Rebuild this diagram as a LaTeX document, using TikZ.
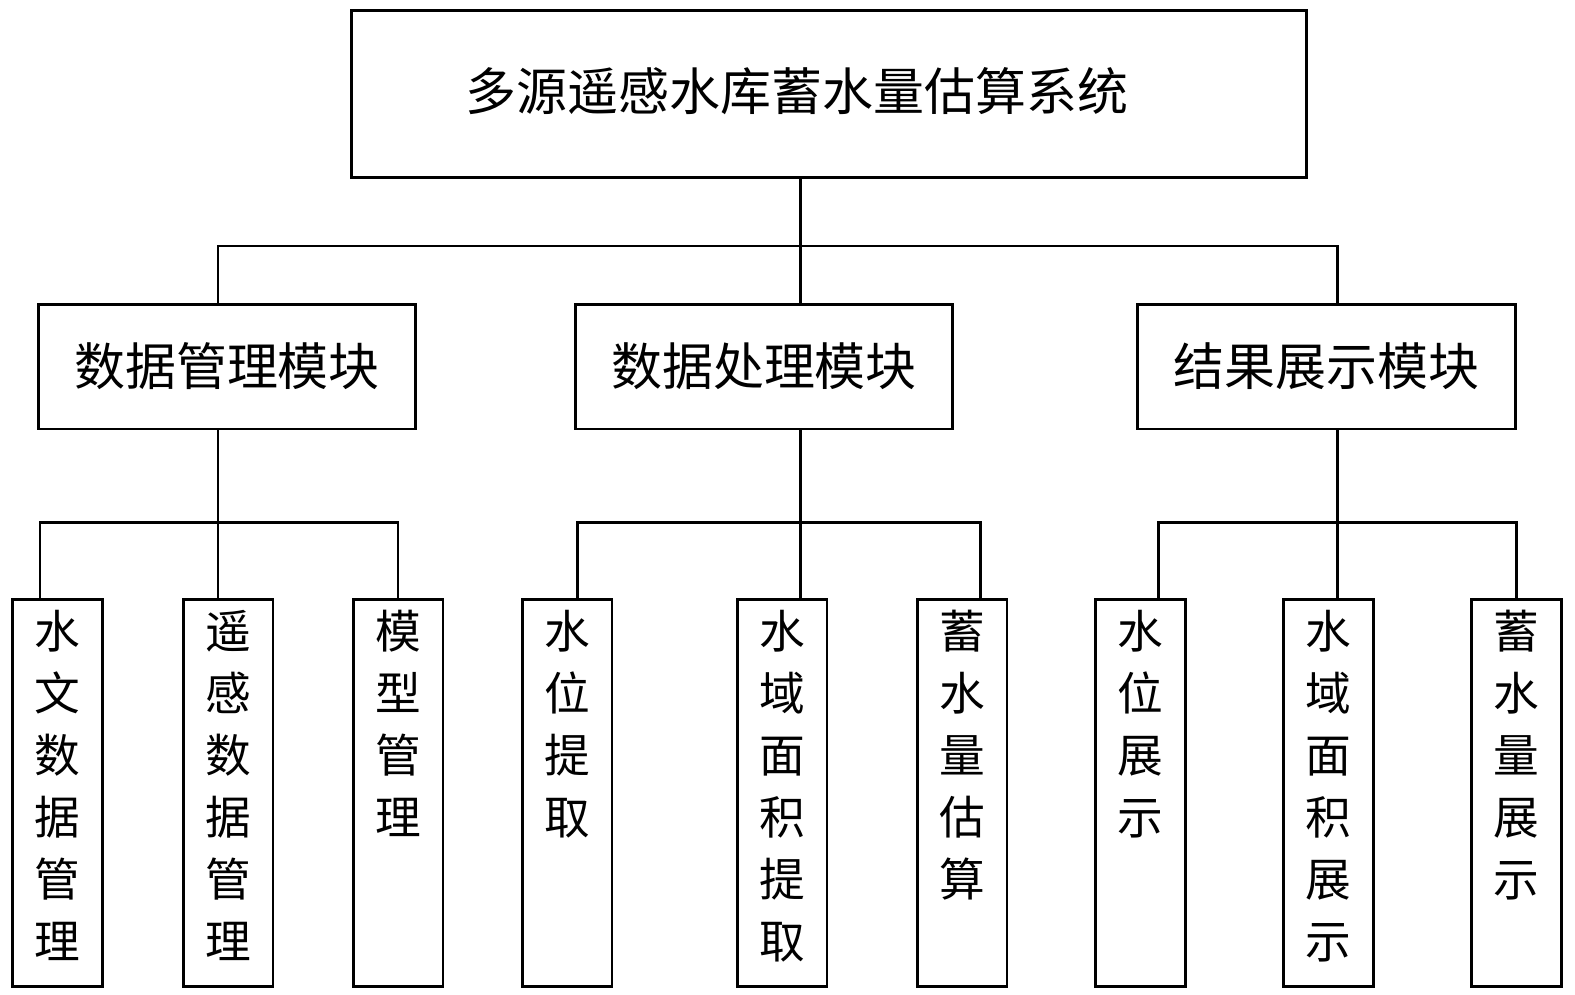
\documentclass[tikz,border=0pt]{standalone}
\usepackage{fontspec}
\newfontfamily\cjk{Noto Sans CJK SC}
\usepackage{tikz}
\usetikzlibrary{positioning,calc}
%竖排文字（顶端对齐）
\newcommand{\leaftext}[1]{\parbox[t][7.3cm][t]{1.5cm}{\centering #1}}

\begin{document}
\begin{tikzpicture}[
        x=0.02cm, y=-0.02cm,
        % --- 样式 ---
        % 系统总框
        system/.style={
            rectangle, draw, line width=1.7pt,
            minimum width=19.12cm, minimum height=3.36cm
        },
        systext/.style={font=\cjk\fontsize{29}{35}\selectfont},
        % 模块框
        module/.style={
            rectangle, draw, line width=1.7pt,
            minimum width=7.56cm, minimum height=2.5cm,
            font=\cjk\fontsize{29}{35}\selectfont
        },
        % 功能框（竖排）
        func/.style={
            rectangle, draw, line width=1.7pt, anchor=north,
            inner xsep=0.15cm, inner ysep=0.22cm,
            font=\cjk\fontsize{26}{35.3}\selectfont
        },
        link/.style={draw, line width=1.7pt}
    ]
    \useasboundingbox (0,0) rectangle (1575,994);

    % --- 顶层：系统 ---
    \node[system] (sys) at (829,94) {};
    \node[systext] (systitle) at (797,91) {多源遥感水库蓄水量估算系统};

    % --- 第二层：模块 ---
    \node[module] (dm) at (227,366.5) {数据管理模块};
    \node[module] (dp) at (764,366.5) {数据处理模块};
    \node[module] (rs) at (1326.5,366.5) {结果展示模块};

    % --- 第三层：功能 ---
    \node[func] (f1) at (57.5,598) {\leaftext{水\\文\\数\\据\\管\\理}};
    \node[func] (f2) at (228,598) {\leaftext{遥\\感\\数\\据\\管\\理}};
    \node[func] (f3) at (398,598) {\leaftext{模\\型\\管\\理}};
    \node[func] (f4) at (567,598) {\leaftext{水\\位\\提\\取}};
    \node[func] (f5) at (782,598) {\leaftext{水\\域\\面\\积\\提\\取}};
    \node[func] (f6) at (962,598) {\leaftext{蓄\\水\\量\\估\\算}};
    \node[func] (f7) at (1140,598) {\leaftext{水\\位\\展\\示}};
    \node[func] (f8) at (1328,598) {\leaftext{水\\域\\面\\积\\展\\示}};
    \node[func] (f9) at (1516,598) {\leaftext{蓄\\水\\量\\展\\示}};

    % --- 连线：系统 -> 模块 ---
    \coordinate (j0) at (800,246);
    \coordinate (j1) at (218,246);
    \coordinate (j3) at (1337,246);
    \draw[link] (j0 |- sys.south) -- (j0 |- dp.north);
    \draw[link] (j1 |- dm.north) -- (j1) -- (j3) -- (j3 |- rs.north);

    % --- 连线：模块 -> 功能 ---
    \coordinate (a1) at (40,522);
    \coordinate (a2) at (218,522);
    \coordinate (a3) at (398,522);
    \draw[link] (a2 |- dm.south) -- (a2 |- f2.north);
    \draw[link] (a1 |- f1.north) -- (a1) -- (a3) -- (a3 |- f3.north);

    \coordinate (b1) at (577,522);
    \coordinate (b2) at (800,522);
    \coordinate (b3) at (980,522);
    \draw[link] (b2 |- dp.south) -- (b2 |- f5.north);
    \draw[link] (b1 |- f4.north) -- (b1) -- (b3) -- (b3 |- f6.north);

    \coordinate (c1) at (1158,522);
    \coordinate (c2) at (1337,522);
    \coordinate (c3) at (1516,522);
    \draw[link] (c2 |- rs.south) -- (c2 |- f8.north);
    \draw[link] (c1 |- f7.north) -- (c1) -- (c3) -- (c3 |- f9.north);

\end{tikzpicture}
\end{document}
